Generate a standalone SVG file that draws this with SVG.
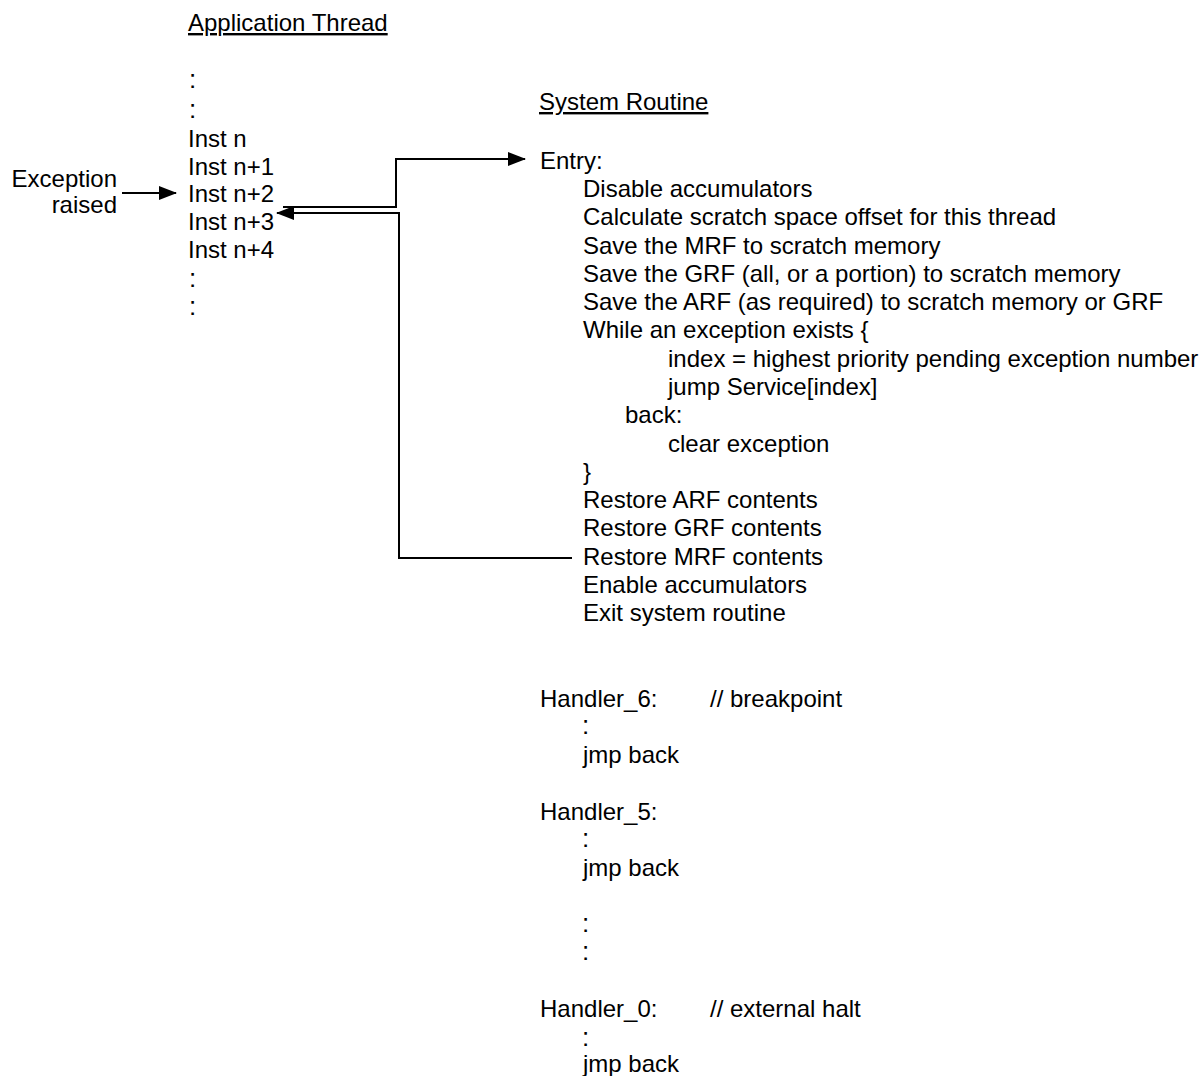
<svg xmlns="http://www.w3.org/2000/svg" width="1199" height="1076" viewBox="0 0 1199 1076">
<style>
text{font-family:"Liberation Sans",Arial,sans-serif;font-size:24px;fill:#000}
.dots{font-size:26px}
.ul{text-decoration:underline}
.conn{fill:none;stroke:#000;stroke-width:2}
</style>
<defs>
<marker id="arr" viewBox="0 0 18 14" refX="17" refY="7" markerWidth="18" markerHeight="14" markerUnits="userSpaceOnUse" orient="auto">
<path d="M0,0 L18,7 L0,14 z" fill="#000"/>
</marker>
</defs>
<rect width="1199" height="1076" fill="#fff"/>
<g id="connectors">
<path class="conn" d="M122,193 H176" marker-end="url(#arr)"/>
<path class="conn" d="M283,207 H396 V159 H525" marker-end="url(#arr)"/>
<path class="conn" d="M572,558 H399 V213 H277" marker-end="url(#arr)"/>
</g>
<g id="exception">
<text x="117" y="187" text-anchor="end">Exception</text>
<text x="117" y="213" text-anchor="end">raised</text>
</g>
<g id="application-thread">
<text x="188" y="31" class="ul">Application Thread</text>
<text x="189" y="88" class="dots">:</text>
<text x="189" y="118" class="dots">:</text>
<text x="188" y="147">Inst n</text>
<text x="188" y="175">Inst n+1</text>
<text x="188" y="202">Inst n+2</text>
<text x="188" y="230">Inst n+3</text>
<text x="188" y="258">Inst n+4</text>
<text x="189" y="287" class="dots">:</text>
<text x="189" y="315" class="dots">:</text>
</g>
<g id="system-routine">
<text x="539" y="110" class="ul">System Routine</text>
<text x="540" y="169">Entry:</text>
<text x="583" y="197">Disable accumulators</text>
<text x="583" y="225">Calculate scratch space offset for this thread</text>
<text x="583" y="254">Save the MRF to scratch memory</text>
<text x="583" y="282">Save the GRF (all, or a portion) to scratch memory</text>
<text x="583" y="310">Save the ARF (as required) to scratch memory or GRF</text>
<text x="583" y="338">While an exception exists {</text>
<text x="668" y="367">index = highest priority pending exception number</text>
<text x="668" y="395">jump Service[index]</text>
<text x="625" y="423">back:</text>
<text x="668" y="452">clear exception</text>
<text x="583" y="480">}</text>
<text x="583" y="508">Restore ARF contents</text>
<text x="583" y="536">Restore GRF contents</text>
<text x="583" y="565">Restore MRF contents</text>
<text x="583" y="593">Enable accumulators</text>
<text x="583" y="621">Exit system routine</text>
</g>
<g id="handler-6">
<text x="540" y="707">Handler_6:</text>
<text x="710" y="707">// breakpoint</text>
<text x="582" y="734" class="dots">:</text>
<text x="583" y="763">jmp back</text>
</g>
<g id="handler-5">
<text x="540" y="820">Handler_5:</text>
<text x="582" y="847" class="dots">:</text>
<text x="583" y="876">jmp back</text>
</g>
<g id="ellipsis">
<text x="582" y="932" class="dots">:</text>
<text x="582" y="960" class="dots">:</text>
</g>
<g id="handler-0">
<text x="540" y="1017">Handler_0:</text>
<text x="710" y="1017">// external halt</text>
<text x="582" y="1046" class="dots">:</text>
<text x="583" y="1072">jmp back</text>
</g>
</svg>
